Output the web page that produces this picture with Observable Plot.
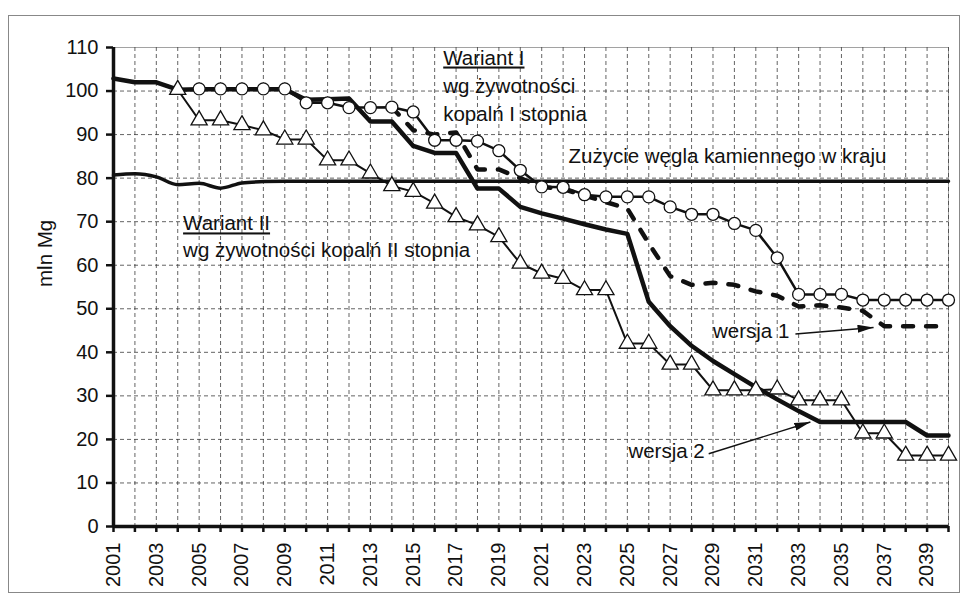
<!DOCTYPE html>
<html>
<head>
<meta charset="utf-8">
<script src="https://cdn.jsdelivr.net/npm/d3@7"></script>
<script src="https://cdn.jsdelivr.net/npm/@observablehq/plot@0.6"></script>
<style>
  html, body { margin: 0; padding: 0; background: #fff; }
  #wrap { position: relative; width: 967px; height: 599px; }
  #border { position: absolute; left: 8px; top: 15px; width: 950px; height: 576px; border: 1px solid #888; pointer-events: none; }
</style>
</head>
<body>
<div id="wrap"><div id="border"></div></div>
<script>
// ---- data ----
const years = d3.range(2001, 2041);
const yTicks = [0, 10, 20, 30, 40, 50, 60, 70, 80, 90, 100, 110];

// Zużycie węgla kamiennego w kraju (2001-2040)
const consumption = [80.7, 81.0, 80.3, 78.5, 78.8, 77.7, 78.9, 79.2, 79.3, 79.3,
  79.3, 79.3, 79.3, 79.3, 79.3, 79.3, 79.3, 79.3, 79.3, 79.3,
  79.3, 79.3, 79.3, 79.3, 79.3, 79.3, 79.3, 79.3, 79.3, 79.3,
  79.3, 79.3, 79.3, 79.3, 79.3, 79.3, 79.3, 79.3, 79.3, 79.3];

// wersja 2 (thick solid) 2001-2040
const wersja2 = [102.9, 102.0, 102.0, 100.3, 100.4, 100.4, 100.4, 100.4, 100.4, 98.0,
  98.1, 98.3, 93.0, 93.0, 87.4, 85.8, 85.8, 77.6, 77.6, 73.4,
  71.9, 70.7, 69.4, 68.2, 67.2, 51.6, 46.0, 41.5, 38.0, 35.0,
  32.0, 29.2, 26.5, 24.0, 24.0, 24.0, 24.0, 24.0, 20.9, 20.9];

// wersja 1 (thick dashed) 2014-2040
const wersja1Years = d3.range(2014, 2041);
const wersja1 = [96.3, 91.0, 90.0, 90.5, 82.0, 82.0, 80.0, 78.0, 77.5, 76.0,
  74.5, 73.0, 65.0, 57.5, 55.5, 56.0, 55.5, 54.0, 53.0, 50.5,
  50.8, 50.3, 49.5, 46.0, 46.0, 46.0, 46.0];

// Wariant I (circles) 2005-2040
const wariant1Years = d3.range(2005, 2041);
const wariant1 = [100.5, 100.5, 100.5, 100.5, 100.5, 97.3, 97.3, 96.2, 96.2, 96.3,
  95.2, 88.7, 88.7, 88.5, 86.3, 81.8, 78.0, 77.9, 76.2, 75.7,
  75.7, 75.7, 73.4, 71.7, 71.7, 69.6, 68.0, 61.7, 53.3, 53.3,
  53.3, 52.0, 52.0, 52.0, 52.0, 52.0];

// Wariant II (triangles) 2004-2040
const wariant2Years = d3.range(2004, 2041);
const wariant2 = [100.3, 93.3, 93.3, 92.2, 91.0, 88.9, 88.9, 84.1, 84.1, 81.1,
  78.2, 76.9, 74.2, 71.1, 69.2, 66.5, 60.4, 58.1, 56.9, 54.3,
  54.3, 42.0, 42.0, 37.2, 37.2, 31.3, 31.3, 31.3, 31.5, 29.0,
  29.0, 29.0, 21.4, 21.4, 16.3, 16.3, 16.3];

// annotations
const labelTexts = ["Wariant I", "wg żywotności", "kopalń I stopnia",
  "Zużycie węgla kamiennego w kraju", "Wariant II", "wg żywotności kopalń II stopnia",
  "wersja 1", "wersja 2"];
const labelX = [2016.4, 2016.4, 2016.4, 2022.25, 2004.25, 2004.25, 2029.0, 2025.05];
const labelY = [107.6, 101.1, 94.6, 85.0, 69.5, 63.3, 44.9, 17.3];
const yLabel = "mln Mg";

const arrowX1 = [2032.85, 2028.8];
const arrowY1 = [44.2, 16.7];
const arrowX2 = [2036.5, 2033.55];
const arrowY2 = [45.7, 24.0];

// ---- tables ----
const rows = (xs, vs) => xs.map((x, i) => ({x, v: vs[i]}));
const consRows = rows(years, consumption);
const w2Rows = rows(years, wersja2);
const w1Rows = rows(wersja1Years, wersja1);
const c1Rows = rows(wariant1Years, wariant1);
const t2Rows = rows(wariant2Years, wariant2);
const labels = labelTexts.map((t, i) => ({t, x: labelX[i], y: labelY[i]}));
const arrows = arrowX1.map((x1, i) => ({x1, y1: arrowY1[i], x2: arrowX2[i], y2: arrowY2[i]}));

const FS = "20.5px";
const TFS = "20px";
const chart = Plot.plot({
  width: 967,
  height: 599,
  marginLeft: 113,
  marginRight: 19,
  marginTop: 47,
  marginBottom: 73,
  style: {fontFamily: "Arial, 'Liberation Sans', sans-serif", fontSize: TFS, color: "#111", background: "transparent", overflow: "visible"},
  x: {domain: [2001, 2040]},
  y: {domain: [0, 110]},
  marks: [
    Plot.gridX(years.slice(1), {stroke: "#333", strokeOpacity: 0.85, strokeWidth: 0.9, strokeDasharray: "4,3"}),
    Plot.gridY(yTicks.slice(1, -1), {stroke: "#333", strokeOpacity: 0.85, strokeWidth: 0.9, strokeDasharray: "4,3"}),
    Plot.frame({stroke: "#444", strokeDasharray: "1,1", strokeWidth: 1}),
    Plot.axisY(yTicks, {tickSize: 7, tickPadding: 8, strokeWidth: 2.5, fontSize: TFS, label: null}),
    Plot.text([yLabel], {frameAnchor: "left", rotate: -90, dx: -68, fontSize: FS, fill: "#111"}),
    Plot.axisX(years, {tickSize: 6, tickPadding: 10, tickRotate: -90, strokeWidth: 2.5, fontSize: TFS,
      tickFormat: d => (d % 2 ? String(d) : ""), label: null}),
    Plot.ruleX([2001], {strokeWidth: 3.5, stroke: "#111"}),
    Plot.ruleY([0], {strokeWidth: 3.5, stroke: "#111"}),
    Plot.line(consRows, {x: "x", y: "v", stroke: "#111", strokeWidth: 3.5, curve: "monotone-x"}),
    Plot.line(w2Rows, {x: "x", y: "v", stroke: "#111", strokeWidth: 4.5, curve: "linear"}),
    Plot.line(w1Rows, {x: "x", y: "v", stroke: "#111", strokeWidth: 4.5, strokeDasharray: "10,13"}),
    Plot.line(t2Rows, {x: "x", y: "v", stroke: "#111", strokeWidth: 2}),
    Plot.dot(t2Rows, {x: "x", y: "v", symbol: "triangle", r: 6, fill: "white", stroke: "#111", strokeWidth: 1.3}),
    Plot.line(c1Rows, {x: "x", y: "v", stroke: "#111", strokeWidth: 2.5}),
    Plot.dot(c1Rows, {x: "x", y: "v", symbol: "circle", r: 6, fill: "white", stroke: "#111", strokeWidth: 1.3}),
    Plot.text(labels, {x: "x", y: "y", text: "t", textAnchor: "start", fill: "#111", fontSize: FS}),
    Plot.link(arrows, {x1: "x1", y1: "y1", x2: "x2", y2: "y2", stroke: "#111", strokeWidth: 1.4})
  ]
});

// underline the variant titles
chart.querySelectorAll("text").forEach(t => {
  if (t.textContent.startsWith("Wariant")) t.style.textDecoration = "underline";
});
// filled arrowheads for the annotation pointers
const ns = "http://www.w3.org/2000/svg";
const defs = document.createElementNS(ns, "defs");
const marker = document.createElementNS(ns, "marker");
marker.setAttribute("id", "filled-arrow");
marker.setAttribute("viewBox", "0 0 16 8");
marker.setAttribute("markerWidth", "16");
marker.setAttribute("markerHeight", "8");
marker.setAttribute("refX", "16");
marker.setAttribute("refY", "4");
marker.setAttribute("orient", "auto");
marker.setAttribute("markerUnits", "userSpaceOnUse");
const mp = document.createElementNS(ns, "path");
mp.setAttribute("d", "M0,0L16,4L0,8Z");
mp.setAttribute("fill", "#111");
marker.appendChild(mp);
defs.appendChild(marker);
chart.insertBefore(defs, chart.firstChild);
chart.querySelectorAll('g[aria-label="link"] path, g[aria-label="link"] line').forEach(p => {
  p.setAttribute("marker-end", "url(#filled-arrow)");
});

const wrap = document.getElementById("wrap");
chart.style.position = "absolute";
chart.style.left = "0px";
chart.style.top = "0px";
wrap.insertBefore(chart, wrap.firstChild);
</script>
</body>
</html>
